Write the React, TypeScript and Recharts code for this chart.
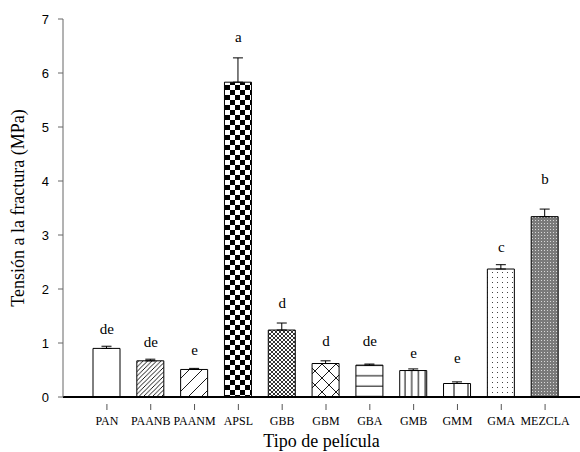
import { ComposedChart, Bar, Cell, ErrorBar, Scatter, XAxis, YAxis } from 'recharts';

const categories = ['PAN', 'PAANB', 'PAANM', 'APSL', 'GBB', 'GBM', 'GBA', 'GMB', 'GMM', 'GMA', 'MEZCLA'];
const means = [0.9, 0.67, 0.51, 5.83, 1.24, 0.62, 0.59, 0.49, 0.25, 2.37, 3.34];
const errors = [0.04, 0.03, 0.02, 0.45, 0.13, 0.05, 0.02, 0.03, 0.03, 0.08, 0.14];
const letters = ['de', 'de', 'e', 'a', 'd', 'd', 'de', 'e', 'e', 'c', 'b'];
const letterPos = [1.26, 1.02, 0.87, 6.66, 1.74, 1.04, 1.04, 0.82, 0.72, 2.78, 4.04];
const yTicks = [0, 1, 2, 3, 4, 5, 6, 7];

const fills = [
  '#ffffff',
  'url(#hatchDense)',
  'url(#hatchSparse)',
  'url(#checker)',
  'url(#crossDense)',
  'url(#crossSparse)',
  'url(#horiz)',
  'url(#vertDense)',
  'url(#vertSparse)',
  'url(#dots)',
  'url(#greyDots)',
];

const data = categories.map((name, i) => ({
  name,
  mean: means[i],
  err: [0, errors[i]],
  letter: letters[i],
  letterPos: letterPos[i],
}));

const serif = '"Liberation Serif", "Times New Roman", serif';
const sans = '"Liberation Sans", Arial, sans-serif';

if (typeof document !== 'undefined') document.body.style.margin = '0';

function Patterns() {
  return (
    <svg width={0} height={0} style={{ position: 'absolute' }}>
      <defs>
        <pattern id="hatchDense" patternUnits="userSpaceOnUse" width={4.5} height={4.5}>
          <rect width={4.5} height={4.5} fill="#fff" />
          <path d="M-1,1 l2,-2 M0,4.5 l4.5,-4.5 M3.5,5.5 l2,-2" stroke="#000" strokeWidth={0.9} />
        </pattern>
        <pattern id="hatchSparse" patternUnits="userSpaceOnUse" width={13} height={13}>
          <rect width={13} height={13} fill="#fff" />
          <path d="M-1,1 l2,-2 M0,13 l13,-13 M12,14 l2,-2" stroke="#000" strokeWidth={0.9} />
        </pattern>
        <pattern id="checker" patternUnits="userSpaceOnUse" width={10} height={10}>
          <rect width={10} height={10} fill="#fff" />
          <rect x={0} y={0} width={5} height={5} fill="#000" />
          <rect x={5} y={5} width={5} height={5} fill="#000" />
        </pattern>
        <pattern id="crossDense" patternUnits="userSpaceOnUse" width={4} height={4}>
          <rect width={4} height={4} fill="#fff" />
          <path d="M0,0 L4,4 M4,0 L0,4" stroke="#000" strokeWidth={0.8} />
        </pattern>
        <pattern id="crossSparse" patternUnits="userSpaceOnUse" width={14} height={14}>
          <rect width={14} height={14} fill="#fff" />
          <path d="M0,0 L14,14 M14,0 L0,14" stroke="#000" strokeWidth={0.9} />
        </pattern>
        <pattern id="horiz" patternUnits="userSpaceOnUse" width={10} height={10.3}>
          <rect width={10} height={10.3} fill="#fff" />
          <path d="M0,5 L10,5" stroke="#000" strokeWidth={1} />
        </pattern>
        <pattern id="vertDense" patternUnits="userSpaceOnUse" width={6.7} height={10}>
          <rect width={6.7} height={10} fill="#fff" />
          <path d="M3,0 L3,10" stroke="#000" strokeWidth={1} />
        </pattern>
        <pattern id="vertSparse" patternUnits="userSpaceOnUse" width={14} height={10}>
          <rect width={14} height={10} fill="#fff" />
          <path d="M6,0 L6,10" stroke="#000" strokeWidth={1} />
        </pattern>
        <pattern id="dots" patternUnits="userSpaceOnUse" width={5} height={5}>
          <rect width={5} height={5} fill="#fff" />
          <rect x={2} y={2} width={1} height={1} fill="#444" />
        </pattern>
        <pattern id="greyDots" patternUnits="userSpaceOnUse" width={3} height={3}>
          <rect width={3} height={3} fill="#7a7a7a" />
          <rect x={1} y={1} width={1} height={1} fill="#d8d8d8" />
        </pattern>
      </defs>
    </svg>
  );
}

function CategoryTick({ x, y, payload }: any) {
  return (
    <g>
      <line x1={x} y1={y - 1} x2={x} y2={y + 5} stroke="#555" strokeWidth={1} />
      <text x={x} y={y + 20} textAnchor="middle" style={{ fontFamily: serif, fontSize: 12, fill: '#000' }}>
        {payload.value}
      </text>
    </g>
  );
}

function LetterShape({ cx, cy, payload }: any) {
  return (
    <text x={cx} y={cy + 5} textAnchor="middle" style={{ fontFamily: serif, fontSize: 15, fill: '#000' }}>
      {payload.letter}
    </text>
  );
}

export default function App() {
  return (
    <div style={{ position: 'relative', width: 580, height: 452, background: '#fff' }}>
      <Patterns />
      <ComposedChart width={580} height={452} data={data} margin={{ top: 19, right: 0, bottom: 0, left: 0 }}>
        <XAxis
          dataKey="name"
          height={55}
          padding={{ left: 22, right: 13 }}
          axisLine={{ stroke: '#000', strokeWidth: 2 }}
          tickLine={false}
          tick={<CategoryTick />}
          interval={0}
          label={{ value: 'Tipo de película', position: 'insideBottom', offset: 5, fill: '#000', style: { fontFamily: serif, fontSize: 18 } }}
        />
        <YAxis
          width={63}
          domain={[0, 7]}
          ticks={yTicks}
          interval={0}
          axisLine={{ stroke: '#666' }}
          tickLine={{ stroke: '#666' }}
          tickSize={5}
          tickMargin={9}
          tick={{ fontFamily: sans, fontSize: 13, fill: '#000' }}
          label={{ value: 'Tensión a la fractura (MPa)', angle: -90, position: 'insideLeft', offset: 18, fill: '#000', style: { textAnchor: 'middle', fontFamily: serif, fontSize: 18 } }}
        />
        <Bar dataKey="mean" barSize={27} stroke="#000" strokeWidth={1} isAnimationActive={false}>
          {data.map((d, i) => (
            <Cell key={d.name} fill={fills[i]} />
          ))}
          <ErrorBar dataKey="err" width={5} stroke="#000" strokeWidth={1} direction="y" />
        </Bar>
        <Scatter dataKey="letterPos" shape={<LetterShape />} isAnimationActive={false} />
      </ComposedChart>
    </div>
  );
}
